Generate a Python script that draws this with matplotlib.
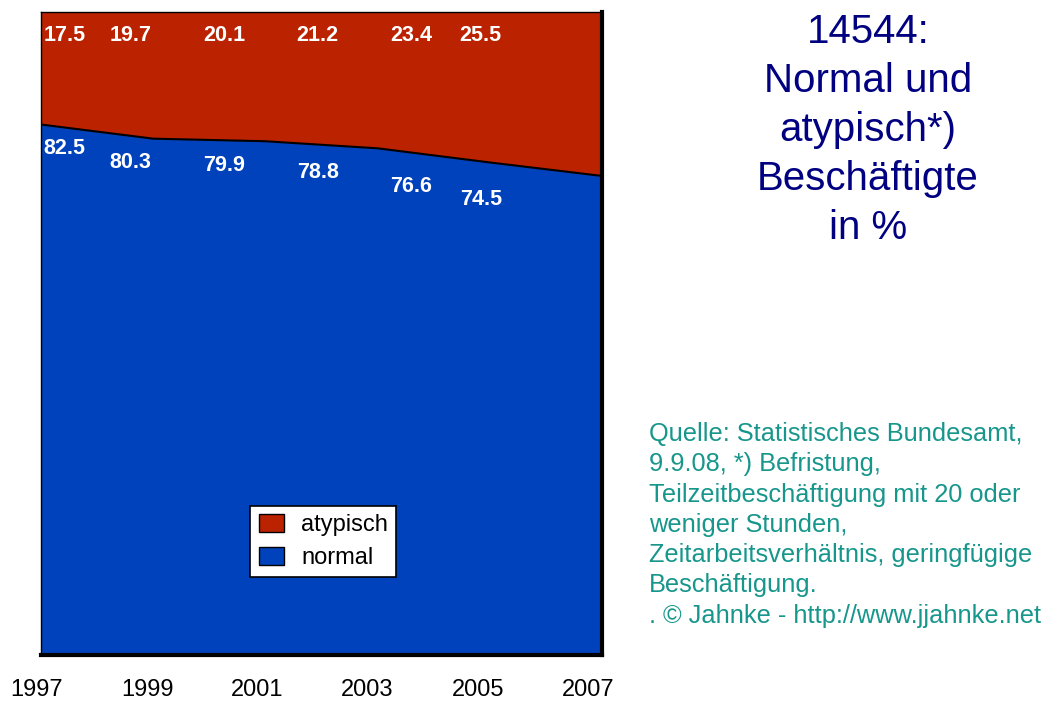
#!/usr/bin/env python3
"""
normal und atypisch beschaeftigte, 1997-2007
"""

import numpy as np
import matplotlib
matplotlib.use('Agg')
import matplotlib.pyplot as plt
import matplotlib.transforms as mtrans
from matplotlib.patches import Patch

years = [1997, 1999, 2001, 2003, 2005, 2007]
normal = [82.5, 80.3, 79.9, 78.8, 76.6, 74.5]
atypisch = [17.5, 19.7, 20.1, 21.2, 23.4, 25.5]

title_txt = "14544:\nNormal und\natypisch*)\nBesch\u00e4ftigte\nin %"
quelle_txt = ("Quelle: Statistisches Bundesamt,\n"
              "9.9.08, *) Befristung,\n"
              "Teilzeitbesch\u00e4ftigung mit 20 oder\n"
              "weniger Stunden,\n"
              "Zeitarbeitsverh\u00e4ltnis, geringf\u00fcgige\n"
              "Besch\u00e4ftigung.\n"
              ". \u00a9 Jahnke - http://www.jjahnke.net")

RED = '#bb2200'
BLUE = '#0042bb'

plt.rcParams['font.family'] = ['Liberation Sans', 'DejaVu Sans']

fig = plt.figure(figsize=(10.6, 7.02), dpi=100)
W, H = 1060., 702.
ax = fig.add_axes([41/W, (H-655)/H, 561/W, 643/H])

ax.stackplot(years, normal, atypisch, colors=[BLUE, RED])
ax.plot(years, normal, color='black', lw=1.5)
ax.set_xlim(years[0], years[-1])
ax.set_ylim(0, 100)
ax.set_yticks([])
ax.set_xticks(years)
ax.set_xticklabels([str(y) for y in years], fontsize=17)
ax.tick_params(axis='x', length=0, pad=17)
# tick labels sit a little left of the grid points in the original
for i, lab in enumerate(ax.get_xticklabels()):
	lab.set_transform(lab.get_transform() +
					  mtrans.ScaledTranslation(-(4 + 2*i)/100., 0, fig.dpi_scale_trans))
for s in ax.spines.values():
	s.set_color('black')
	s.set_linewidth(1)
ax.spines['right'].set_linewidth(3)
ax.spines['bottom'].set_linewidth(3)

# value labels, spread evenly over the plot
lx = np.linspace(years[0], years[-1], len(years) + 1)[:-1]
for i in range(len(years)):
	x = lx[i] - 0.07
	ha = 'center'
	if i == 0:
		x = lx[i] + 0.05
		ha = 'left'
	elif i == len(years) - 1:
		x = lx[i] - 0.12
		ha = 'right'
	ax.text(x, 96.4, '%.1f' % atypisch[i], color='white', fontsize=15.5,
			fontweight='bold', ha=ha, va='center')
	ax.text(x, normal[i] - 3.7, '%.1f' % normal[i], color='white', fontsize=15.5,
			fontweight='bold', ha=ha, va='center')

handles = [Patch(facecolor=RED, edgecolor='black'), Patch(facecolor=BLUE, edgecolor='black')]
leg = ax.legend(handles, ['atypisch', 'normal'], loc='lower left',
				bbox_to_anchor=(0.373, 0.121), fontsize=17, frameon=True,
				fancybox=False, borderpad=0.35, borderaxespad=0, handlelength=1.1,
				handleheight=0.8, handletextpad=0.7, labelspacing=0.45)
leg.get_frame().set_edgecolor('black')
leg.get_frame().set_linewidth(1.2)
leg.get_frame().set_alpha(1)

fig.text(868/W, 1 - 13/H, title_txt, color='#000080', fontsize=29,
		 ha='center', va='top', linespacing=1.37)
fig.text(649/W, 1 - 422/H, quelle_txt, color='#17968c', fontsize=18.3,
		 ha='left', va='top', linespacing=1.33)

fig.savefig('out.png', dpi=100)
print('EOF')
